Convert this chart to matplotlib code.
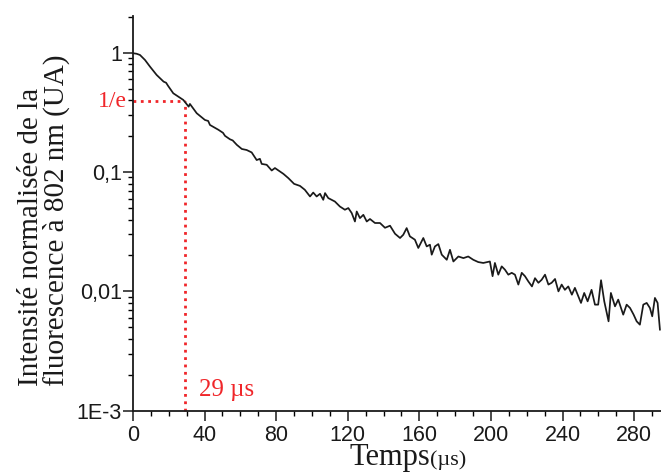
import numpy as np
import matplotlib
matplotlib.use("Agg")
import matplotlib.pyplot as plt
from matplotlib.ticker import LogLocator, FixedLocator, FixedFormatter, MultipleLocator, NullFormatter

# Fluorescence decay (time in µs, normalised intensity)
time_us = [
    0.0, 2.0, 3.9, 6.7, 9.5, 13.2, 17.1, 18.5, 19.5, 22.5, 28.1, 31.1, 31.8, 35.6,
    40.2, 42.0, 43.0, 47.7, 50.3, 51.4, 54.2, 55.7, 58.0, 60.8, 63.5, 66.3, 69.1,
    70.9, 71.9, 74.7, 77.5, 79.3, 84.0, 86.8, 90.0, 93.3, 96.0, 98.9, 100.7, 102.6,
    104.5, 106.3, 107.3, 109.1, 111.0, 112.8, 115.6, 118.4, 120.3, 122.2, 124.0,
    125.0, 126.8, 128.7, 130.6, 132.4, 135.2, 138.0, 140.8, 143.6, 146.4, 149.2,
    151.0, 152.9, 154.7, 157.5, 159.4, 162.2, 164.1, 165.9, 166.9, 168.7, 170.6,
    172.5, 175.3, 177.1, 179.0, 181.8, 184.6, 187.3, 190.1, 192.9, 195.7, 199.4,
    200.9, 202.2, 204.1, 206.0, 207.8, 209.7, 211.6, 213.4, 215.3, 217.2, 219.0,
    220.9, 222.9, 224.6, 226.5, 228.3, 230.2, 232.1, 233.9, 235.8, 237.7, 239.5,
    241.3, 243.2, 245.2, 246.9, 248.8, 250.3, 252.1, 254.0, 256.2, 258.1, 259.9,
    261.5, 263.3, 265.7, 267.0, 269.3, 271.1, 273.9, 275.8, 277.7, 279.7, 281.4,
    283.2, 285.1, 287.0, 288.8, 290.1, 291.6, 293.1, 294.4,
]
intensity = [
    0.99, 0.98, 0.957, 0.869, 0.764, 0.651, 0.572, 0.56, 0.53, 0.457, 0.402, 0.353,
    0.372, 0.311, 0.273, 0.268, 0.248, 0.226, 0.213, 0.201, 0.188, 0.184, 0.169,
    0.156, 0.153, 0.146, 0.126, 0.129, 0.117, 0.115, 0.103, 0.108, 0.0966, 0.0889,
    0.0796, 0.0765, 0.071, 0.0624, 0.0673, 0.0624, 0.0657, 0.0585, 0.0666, 0.0605,
    0.0585, 0.0566, 0.0514, 0.0483, 0.0499, 0.0453, 0.0385, 0.0467, 0.0411, 0.0438,
    0.0385, 0.0404, 0.0374, 0.0374, 0.0341, 0.0355, 0.0304, 0.0280, 0.0298, 0.0339,
    0.0289, 0.0271, 0.0231, 0.0280, 0.0238, 0.0246, 0.0203, 0.0238, 0.0249, 0.0203,
    0.0184, 0.0223, 0.0178, 0.0196, 0.0190, 0.0196, 0.0184, 0.0176, 0.0173, 0.0178,
    0.0134, 0.0173, 0.0138, 0.0162, 0.0152, 0.0138, 0.0143, 0.0138, 0.0114, 0.0143,
    0.0134, 0.0121, 0.0110, 0.0129, 0.0118, 0.0125, 0.0138, 0.0114, 0.0118, 0.0127,
    0.0100, 0.0114, 0.0103, 0.0110, 0.00938, 0.0107, 0.00908, 0.0080, 0.0097,
    0.00825, 0.0103, 0.00774, 0.00774, 0.0124, 0.00825, 0.00561, 0.0097, 0.00749,
    0.00853, 0.00638, 0.00774, 0.00726, 0.00638, 0.00561, 0.00526, 0.00774, 0.0080,
    0.00726, 0.00618, 0.00881, 0.0080, 0.00478,
]

tau_us = 29           # lifetime marked on the plot
level_1e = 0.39       # height of the "1/e" guide as drawn in the reference

y_ticks = [1e-3, 1e-2, 1e-1, 1]
y_ticklabels = ["1E-3", "0,01", "0,1", "1"]
x_ticks = [0, 40, 80, 120, 160, 200, 240, 280]

RED = "#f0262a"
SANS = "Liberation Sans"
SERIF = "Liberation Serif"

fig = plt.figure(figsize=(6.61, 4.74), dpi=100)
ax = fig.add_axes([133 / 661, 1 - 410.7 / 474, 1 - 133 / 661, (410.7 - 16) / 474])

ax.plot(time_us, intensity, color="#1a1a1a", linewidth=1.25, zorder=3)

# 1/e guide lines
ax.plot([0, tau_us], [level_1e, level_1e], color=RED, linestyle=":", linewidth=2.0,
        zorder=2, clip_on=False)
ax.plot([tau_us, tau_us], [1e-3, level_1e], color=RED, linestyle=":", linewidth=2.0,
        zorder=2, clip_on=False)
ax.text(-0.012, level_1e, "1/e", transform=ax.get_yaxis_transform(), ha="right",
        va="center", color=RED, fontsize=17, family=SERIF)
ax.text(tau_us + 8, 0.00148, "29 µs", ha="left", va="center", color=RED,
        fontsize=18, family=SERIF)

ax.set_yscale("log")
ax.set_ylim(1e-3, 2.03)
ax.set_xlim(0, 295)

ax.yaxis.set_major_locator(FixedLocator(y_ticks))
ax.yaxis.set_major_formatter(FixedFormatter(y_ticklabels))
ax.yaxis.set_minor_locator(LogLocator(base=10, subs=np.arange(2, 10)))
ax.yaxis.set_minor_formatter(NullFormatter())
ax.xaxis.set_major_locator(FixedLocator(x_ticks))
ax.xaxis.set_minor_locator(MultipleLocator(10))

ax.tick_params(axis="both", which="major", direction="out", length=7, width=1.1,
               labelsize=15.5, colors="#1a1a1a")
ax.tick_params(axis="both", which="minor", direction="out", length=3.5, width=1.0)
ax.tick_params(axis="y", which="major", pad=1)
ax.tick_params(axis="x", which="major", pad=3)
for lab in ax.get_xticklabels() + ax.get_yticklabels():
    lab.set_family(SANS)

for side in ("top", "right"):
    ax.spines[side].set_visible(False)
for side in ("left", "bottom"):
    ax.spines[side].set_linewidth(1.3)
    ax.spines[side].set_color("#1a1a1a")

# axis titles (both lines start at the same height, as in the reference)
fig.text(44 / 661, 1 - 386 / 474, "Intensité normalisée de la\nfluorescence à 802 nm (UA)",
         rotation=90, ha="center", va="bottom", multialignment="left",
         fontsize=21, family=SERIF, linespacing=0.95, color="#1a1a1a")
fig.text(430 / 661, 1 - 465 / 474, "Temps", ha="right", va="baseline",
         fontsize=22, family=SERIF, color="#1a1a1a")
fig.text(430 / 661, 1 - 465 / 474, "(µs)", ha="left", va="baseline",
         fontsize=16, family=SERIF, color="#1a1a1a")

fig.savefig("out.png", dpi=100)
